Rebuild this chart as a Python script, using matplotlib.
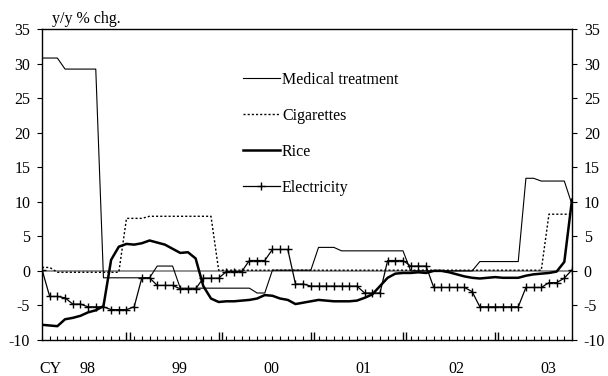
import matplotlib
matplotlib.use("Agg")
import matplotlib.pyplot as plt
import numpy as np

plt.rcParams['font.family'] = ['Liberation Serif', 'DejaVu Serif']
plt.rcParams['axes.unicode_minus'] = False

# monthly, Jan 1998 .. Oct 2003 (y/y % chg.)
medical = [30.8, 30.8, 30.8, 29.2, 29.2, 29.2, 29.2, 29.2,
           -1.0, -1.0, -1.0, -1.0, -1.0, -1.0, -1.0,
           0.7, 0.7, 0.7,
           -2.5, -2.5, -2.5, -2.5, -2.5, -2.5, -2.5, -2.5, -2.5, -2.5,
           -3.2, -3.2,
           0.1, 0.1, 0.1, 0.1, 0.1, 0.1,
           3.4, 3.4, 3.4,
           2.9, 2.9, 2.9, 2.9, 2.9, 2.9, 2.9, 2.9, 2.9,
           0.0, 0.0, 0.0, 0.0, 0.0, 0.0, 0.0, 0.0, 0.0,
           1.35, 1.35, 1.35, 1.35, 1.35, 1.35,
           13.4, 13.4, 13.0, 13.0, 13.0, 13.0, 9.6]

cigarettes = [0.5, 0.5,
              -0.2, -0.2, -0.2, -0.2, -0.2, -0.2, -0.2, -0.2, -0.2,
              7.6, 7.6, 7.6,
              7.9, 7.9, 7.9, 7.9, 7.9, 7.9, 7.9, 7.9, 7.9] + [0.1] * 43 + [8.2, 8.2, 8.2, 8.2]

rice = [-7.8, -7.9, -8.0, -7.0, -6.8, -6.5, -6.0, -5.7, -5.1, 1.6,
        3.5, 3.9, 3.8, 4.0, 4.4, 4.1, 3.8, 3.2, 2.6, 2.7,
        1.8, -2.2, -4.0, -4.5, -4.4, -4.4, -4.3, -4.2, -4.0, -3.5,
        -3.6, -4.0, -4.2, -4.8, -4.6, -4.4, -4.2, -4.3, -4.4, -4.4,
        -4.4, -4.3, -3.9, -3.4, -2.2, -1.0, -0.4, -0.3, -0.3, -0.2,
        -0.3, 0.0, 0.0, -0.2, -0.5, -0.8, -1.0, -1.1, -1.0, -0.9,
        -1.0, -1.0, -1.0, -0.7, -0.5, -0.4, -0.3, -0.1, 1.3, 10.3]

electricity = [0.2, -3.7, -3.7, -3.9, -4.8, -4.8, -5.2, -5.2, -5.2, -5.6,
               -5.6, -5.6, -5.2, -1.0, -1.0, -2.1, -2.1, -2.1, -2.6, -2.6,
               -2.6, -1.05, -1.05, -1.05, -0.1, -0.1, -0.1, 1.5, 1.5, 1.5,
               3.1, 3.1, 3.1, -1.9, -1.9, -2.2, -2.2, -2.2, -2.2, -2.2,
               -2.2, -2.2, -3.2, -3.2, -3.2, 1.5, 1.5, 1.5, 0.7, 0.7,
               0.7, -2.4, -2.4, -2.4, -2.4, -2.4, -3.0, -5.2, -5.2, -5.2,
               -5.2, -5.2, -5.2, -2.4, -2.4, -2.4, -1.7, -1.7, -1.05, 0.15]

year_labels = ["98", "99", "00", "01", "02", "03"]

months = np.arange(len(rice))

fig = plt.figure(figsize=(6.08, 3.76), dpi=100)
ax = fig.add_axes([42 / 608, 1 - 340 / 376, 530 / 608, 311 / 376])

ax.axhline(0, color='#808080', lw=1.2, zorder=1)
ax.plot(months, medical, c='black', lw=0.8, label='Medical treatment')
ax.plot(months, cigarettes, c='black', lw=1.0, ls=(0, (1.5, 1.5)), label='Cigarettes')
ax.plot(months, rice, c='black', lw=1.8, label='Rice')
ax.plot(months, electricity, c='black', lw=0.9, marker='+', ms=6, mew=1.0, label='Electricity')

ax.set_xlim(0, len(rice) - 1)
ax.set_ylim(-10, 35)
ax.set_yticks(np.arange(-10, 36, 5))
ax.tick_params(axis='y', which='both', left=True, right=True, labelleft=True, labelright=True,
               direction='out', length=3.5, width=0.8, pad=5, labelsize=11.5)

# monthly ticks inside, double ticks at each December
dec = np.arange(11, len(rice), 12)
ax.set_xticks(np.sort(np.concatenate([dec, dec + 0.4])))
ax.set_xticks(months, minor=True)
ax.tick_params(axis='x', which='major', direction='in', length=6, width=1.0, labelbottom=False)
ax.tick_params(axis='x', which='minor', direction='in', length=3, width=0.8)
for s in ax.spines.values():
    s.set_linewidth(1.0)

xt = ax.get_xaxis_transform()
ax.text(1.1, -0.092, "CY", transform=xt, ha='center', va='center', fontsize=11.5)
for i, lab in enumerate(year_labels):
    ax.text(6 + 12 * i - 0.1, -0.092, lab, transform=xt, ha='center', va='center', fontsize=11.5)

ax.text(0.019, 1.006, "y/y % chg.", transform=ax.transAxes, ha='left', va='bottom', fontsize=11.5)

ax.legend(loc='upper left', bbox_to_anchor=(0.379, 0.862), frameon=False, fontsize=11.5,
          borderpad=0, borderaxespad=0, handlelength=2.3, handletextpad=0.15,
          labelspacing=1.25, numpoints=1)

fig.savefig("out.png", dpi=100, facecolor='white')
